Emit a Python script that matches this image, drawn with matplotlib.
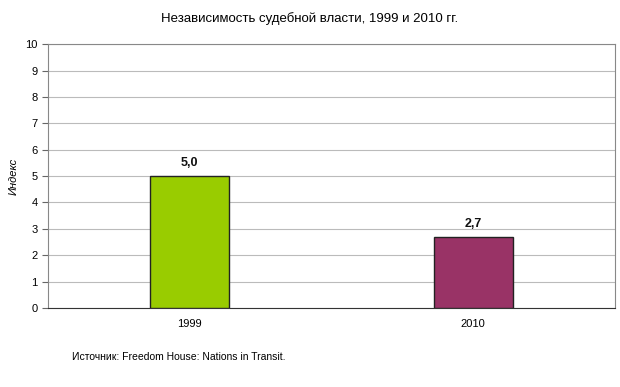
import matplotlib.pyplot as plt

plt.rcParams['font.family'] = ['Liberation Sans', 'DejaVu Sans']

years = ['1999', '2010']
values = [5.0, 2.7]
colors = ['#99CC00', '#993366']

fig = plt.figure(figsize=(6.2, 3.87), dpi=100)
ax = fig.add_axes([0.0774, 0.204, 0.9146, 0.682])

x = range(len(years))
ax.bar(x, values, width=0.28, color=colors, edgecolor='#222222', linewidth=1.0, zorder=3)
for i, v in zip(x, values):
    ax.text(i, v + 0.25, ('%.1f' % v).replace('.', ','), ha='center', va='bottom',
            fontsize=9, fontweight='bold', color='#111111')

ax.set_xlim(-0.5, 1.5)
ax.set_ylim(0, 10)
ax.set_yticks(range(0, 11))
ax.set_xticks(list(x))
ax.set_xticklabels(years)
ax.tick_params(axis='x', length=0, labelsize=8, pad=8)
ax.tick_params(axis='y', length=4, labelsize=8, color='#666666', direction='out')
ax.yaxis.grid(True, color='#BBBBBB', linewidth=0.8, zorder=0)
for s in ax.spines.values():
    s.set_color('#888888')
    s.set_linewidth(0.8)
ax.spines['bottom'].set_color('#333333')

ax.set_ylabel('Индекс', fontsize=8, fontstyle='italic')
ax.yaxis.set_label_coords(-0.052, 0.5)
fig.text(0.5, 0.953, 'Независимость судебной власти, 1999 и 2010 гг.', ha='center', va='center', fontsize=9.5)
fig.text(0.116, 0.077, 'Источник: Freedom House: Nations in Transit.', ha='left', va='center', fontsize=7.5)

fig.savefig('out.png', dpi=100)
